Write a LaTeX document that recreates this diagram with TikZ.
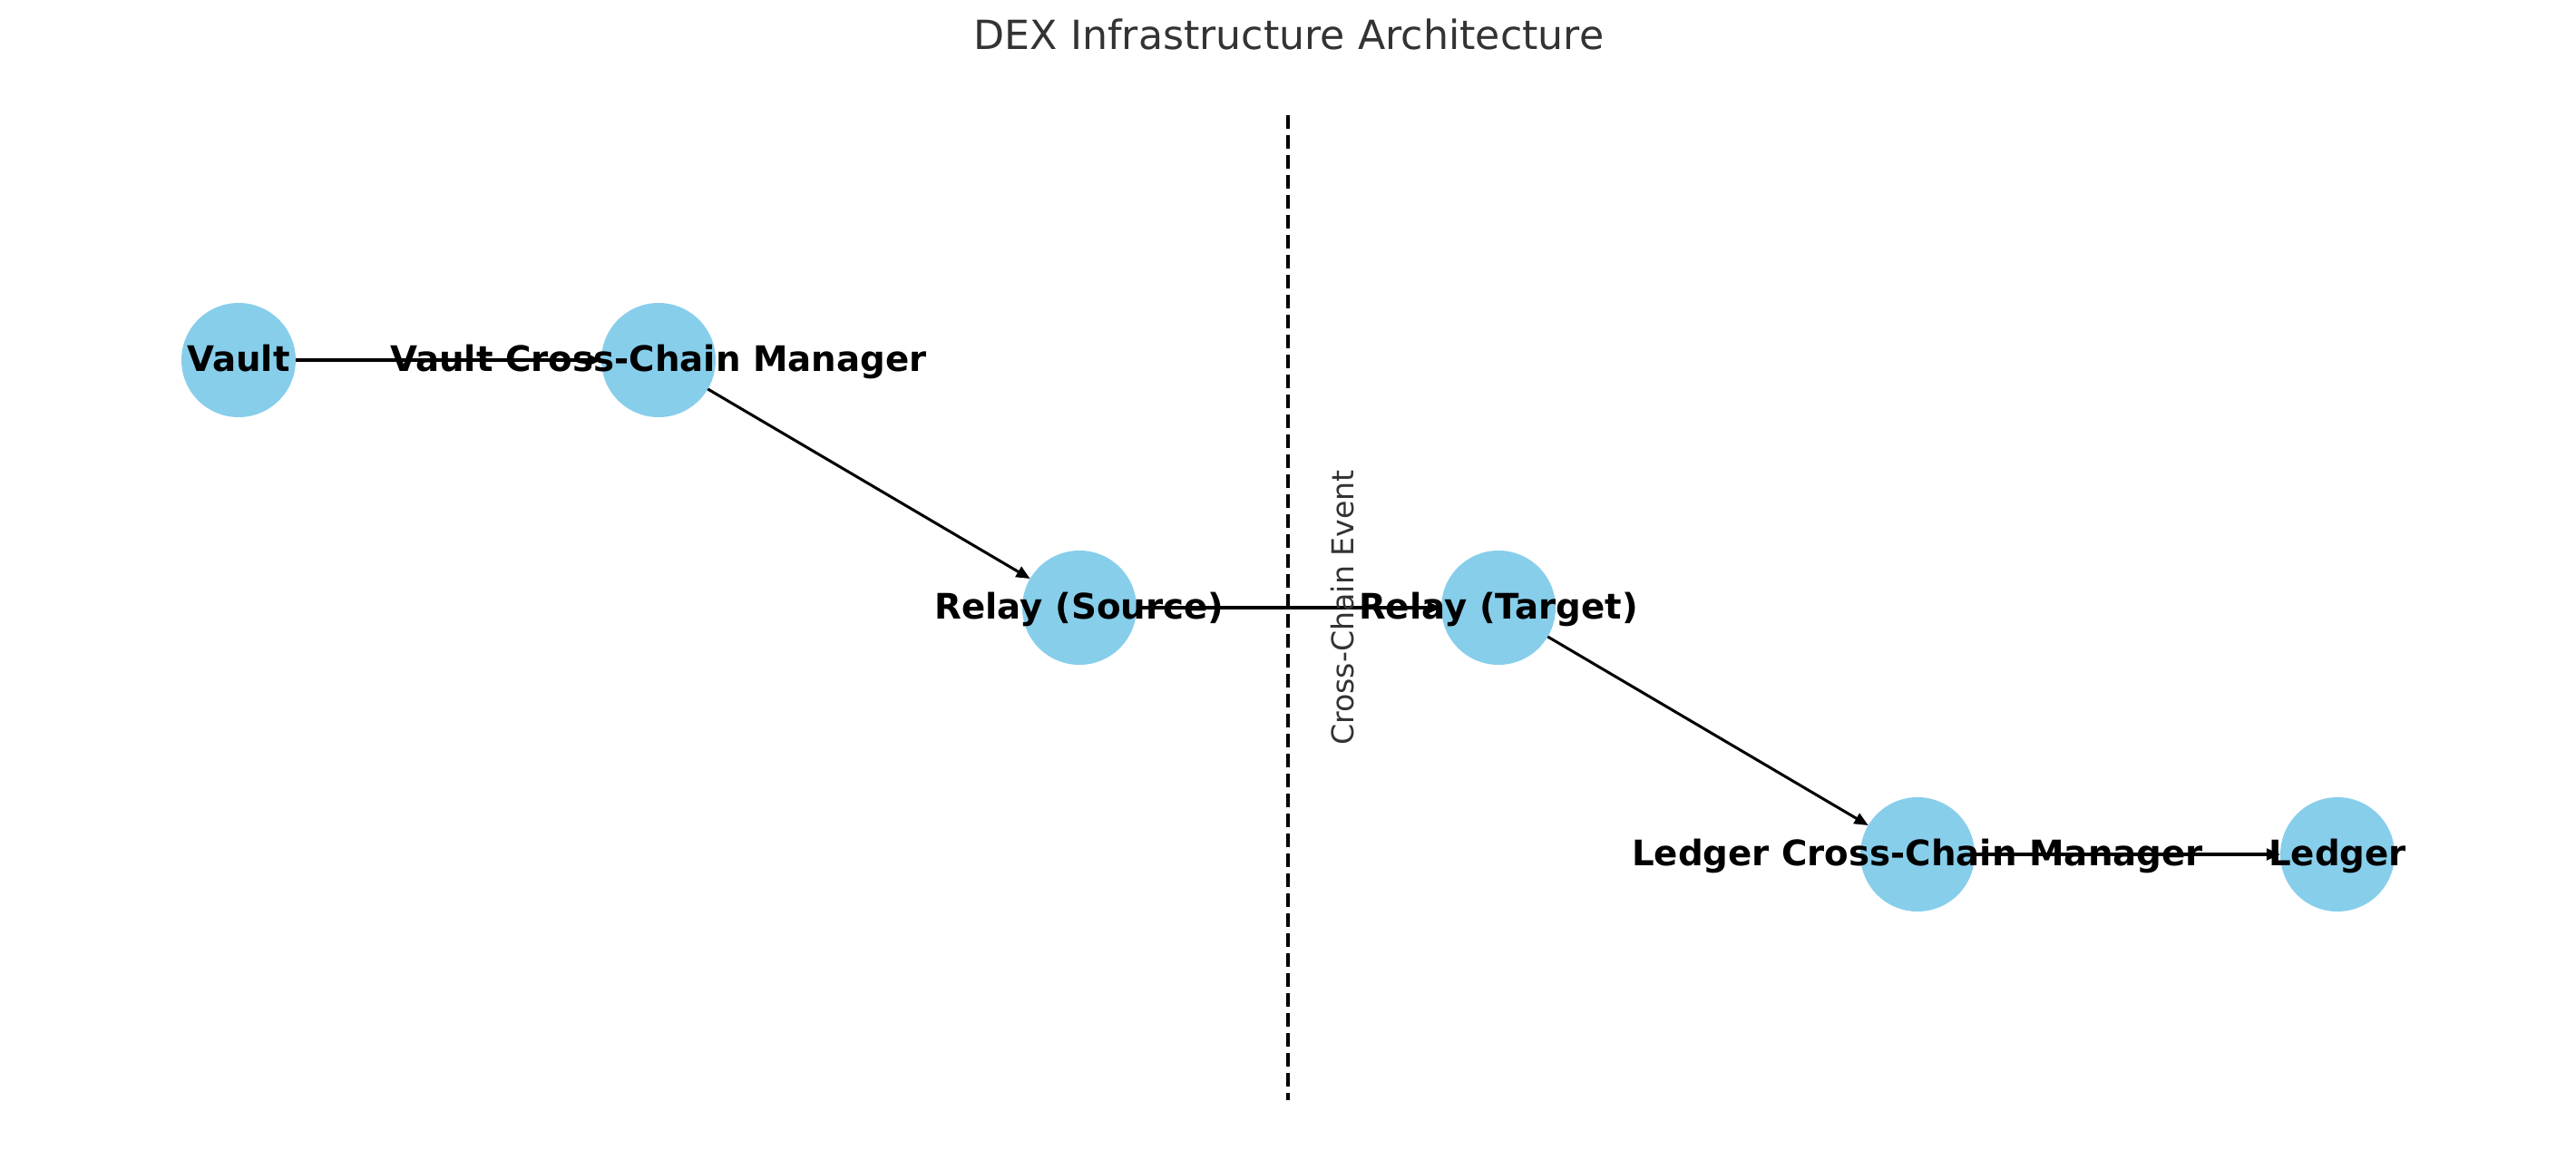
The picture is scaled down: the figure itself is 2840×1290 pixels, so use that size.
\documentclass[tikz,border=0pt]{standalone}
\usepackage{fontspec}
\setmainfont{DejaVu Sans}
\usetikzlibrary{arrows.meta}
\definecolor{skyblue}{HTML}{87CEEB}
\definecolor{softblack}{HTML}{333333}
\tikzset{
  station/.style={circle, fill=skyblue, minimum size=16mm, inner sep=0pt, outer sep=0pt},
  link/.style={-{Triangle[length=5.5pt,width=4.6pt]}, line width=1.1pt, black},
  stationlabel/.style={font=\fontsize{14}{16}\selectfont\bfseries, anchor=base, yshift=-1.6mm},
  divider/.style={line width=1.5pt, dash pattern=on 5.55pt off 2.4pt},
}

\begin{document}
\begin{tikzpicture}[x=0.127mm, y=-0.127mm]
\useasboundingbox (0,0) rectangle (2840,1290);
\node[font=\fontsize{16}{19}\selectfont, text=softblack, anchor=base] (title) at (1421,55) {DEX Infrastructure Architecture};

% stations
\node[station] (vault) at (263,397) {};
\node[station] (vaultmgr) at (726,397) {};
\node[station] (relaysrc) at (1190,670) {};
\node[station] (relaytgt) at (1652,670) {};
\node[station] (ledgermgr) at (2114,942) {};
\node[station] (ledger) at (2577,942) {};

% links
\draw[link] (vault) -- (vaultmgr);
\draw[link] (vaultmgr) -- (relaysrc);
\draw[link] (relaysrc) -- (relaytgt);
\draw[link] (relaytgt) -- (ledgermgr);
\draw[link] (ledgermgr) -- (ledger);

% chain boundary
\coordinate (divtop) at (1420,127);
\coordinate (divbottom) at (1420,1213);
\draw[divider] (divtop) -- (divbottom);
\node[font=\fontsize{12}{14}\selectfont, text=softblack, rotate=90, anchor=base] (event) at (1492,670) {Cross-Chain Event};

% labels
\node[stationlabel] at (vault) {Vault};
\node[stationlabel] at (vaultmgr) {Vault Cross-Chain Manager};
\node[stationlabel] at (relaysrc) {Relay (Source)};
\node[stationlabel] at (relaytgt) {Relay (Target)};
\node[stationlabel] at (ledgermgr) {Ledger Cross-Chain Manager};
\node[stationlabel] at (ledger) {Ledger};
\end{tikzpicture}
\end{document}
